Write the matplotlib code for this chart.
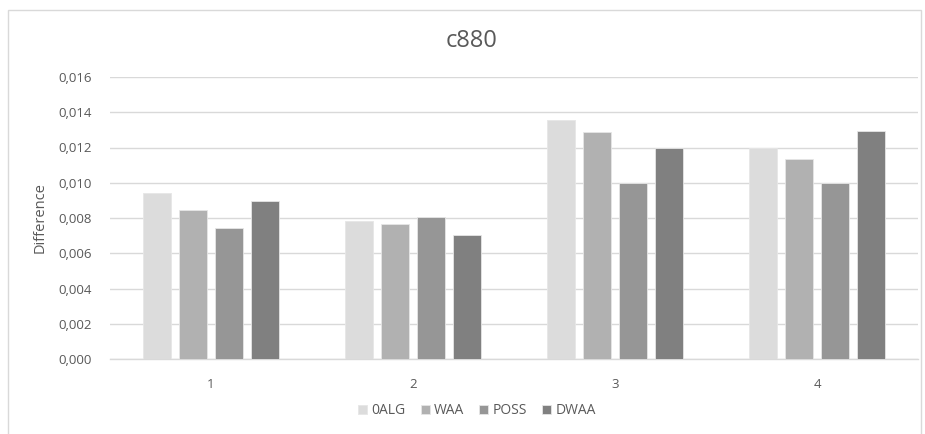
import matplotlib
matplotlib.use("Agg")
import matplotlib.pyplot as plt
from matplotlib.patches import Rectangle
from matplotlib.ticker import FuncFormatter, MultipleLocator
import numpy as np

categories = ["1", "2", "3", "4"]
series_names = ["0ALG", "WAA", "POSS", "DWAA"]
val_0alg = [0.00944, 0.00781, 0.01354, 0.01197]
val_waa = [0.00844, 0.00768, 0.01286, 0.01133]
val_poss = [0.00745, 0.00807, 0.00997, 0.00997]
val_dwaa = [0.00898, 0.00704, 0.01195, 0.01294]
colors = ["#dcdcdc", "#b1b1b1", "#969696", "#808080"]

plt.rcParams["font.family"] = ["Open Sans", "DejaVu Sans"]

W, H = 925, 434
fig = plt.figure(figsize=(W / 100, H / 100), dpi=100)

# chart-area frame
fig.patches.append(Rectangle((8 / W, -0.01), (921 - 8) / W, (H - 10) / H + 0.01,
                             transform=fig.transFigure, fill=False,
                             edgecolor="#d9d9d9", linewidth=1.0))

ax = fig.add_axes([110 / W, 1 - 359 / H, (918 - 110) / W, (359 - 77) / H])

values = [val_0alg, val_waa, val_poss, val_dwaa]
x = np.arange(len(categories))
bar_w = 0.139
step = 0.179
for i, (vals, name, c) in enumerate(zip(values, series_names, colors)):
    offs = (i - 1.5) * step
    ax.bar(x + offs, vals, width=bar_w, color=c, label=name,
           edgecolor="#e6e6e6", linewidth=0.6, zorder=3)

ax.set_xlim(-0.5, len(categories) - 0.5)
ax.set_ylim(0, 0.016)
ax.yaxis.set_major_locator(MultipleLocator(0.002))
ax.yaxis.set_major_formatter(FuncFormatter(lambda v, p: f"{v:.3f}".replace(".", ",")))
ax.set_xticks(x)
ax.set_xticklabels(categories)

ax.grid(axis="y", color="#d9d9d9", linewidth=1.0, zorder=0)
for s in ["top", "right", "left"]:
    ax.spines[s].set_visible(False)
ax.spines["bottom"].set_color("#d9d9d9")
ax.spines["bottom"].set_linewidth(1.0)
ax.tick_params(axis="both", length=0, colors="#595959", labelsize=9.5)
ax.tick_params(axis="y", pad=13)
ax.tick_params(axis="x", pad=14)

ax.set_ylabel("Difference", color="#595959", fontsize=10.5, labelpad=8)

fig.text(472 / W, 1 - 41 / H, "c880", ha="center", va="center",
         fontsize=17, color="#595959")

leg = ax.legend(loc="center", bbox_to_anchor=(477 / W, 1 - 411 / H),
                bbox_transform=fig.transFigure, ncol=4, frameon=False,
                fontsize=10, handlelength=0.65, handleheight=0.65,
                handletextpad=0.3, columnspacing=1.1)
for t in leg.get_texts():
    t.set_color("#595959")

fig.savefig("out.png", dpi=100)
